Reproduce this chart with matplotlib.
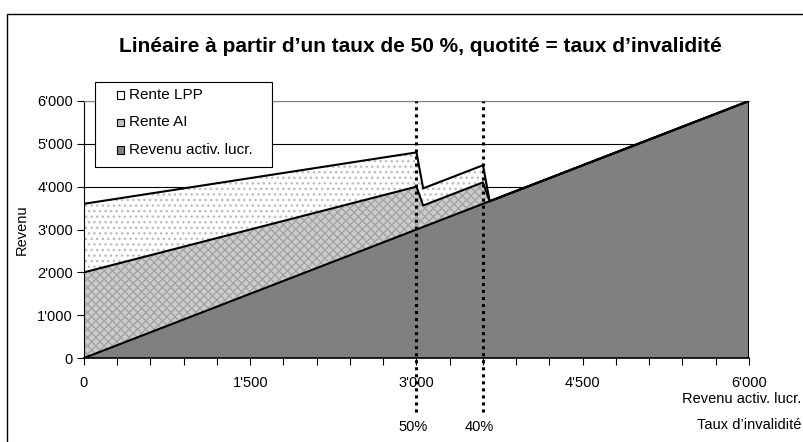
import matplotlib
matplotlib.use('Agg')
import matplotlib.pyplot as plt
import numpy as np
from matplotlib.patches import Rectangle
from matplotlib.ticker import MultipleLocator, FuncFormatter

plt.rcParams['font.family'] = ['Liberation Sans', 'DejaVu Sans']
plt.rcParams['hatch.linewidth'] = 1.0

# breakpoints (income in CHF)
revenu = [0, 3000, 3060, 3600, 3660, 6000]
rente_ai = [2000, 1000, 500, 500, 0, 0]
rente_lpp = [1600, 800, 400, 400, 0, 0]
seuils = [3000, 3600]
seuil_labels = ['50%', '40%']
legend_labels = ['Rente LPP', 'Rente AI', 'Revenu activ. lucr.']
legend_colors = ['white', '#c0c0c0', '#808080']

W, H = 804, 442


def apostrophe(v, pos=None):
    return f"{int(v):,}".replace(',', "'")


def fx(px):
    return px / W


def fy(py):
    return 1 - py / H


x = np.array(revenu, dtype=float)
top_rev = x
top_ai = top_rev + np.array(rente_ai)
top_lpp = top_ai + np.array(rente_lpp)

fig = plt.figure(figsize=(W / 100, H / 100), dpi=100)
ax = fig.add_axes([fx(84), fy(358), 665 / W, 257 / H])

ax.fill_between(x, 0, top_rev, facecolor='#808080', linewidth=0, zorder=2)
ax.fill_between(x, top_rev, top_ai, facecolor='#cccccc', hatch='xxxx',
                edgecolor='#a4a4a4', linewidth=0, zorder=2)
ax.fill_between(x, top_ai, top_lpp, facecolor='white', hatch='...',
                edgecolor='#bcbcbc', linewidth=0, zorder=2)

for top in (top_rev, top_ai, top_lpp):
    ax.plot(x, top, color='black', lw=1.5, zorder=3)
ax.plot([x[-1], x[-1]], [0, top_rev[-1]], color='black', lw=1.5, zorder=3)
ax.plot([x[0], x[0]], [0, top_lpp[0]], color='black', lw=1.2, zorder=3)

# invalidity thresholds
for s, lab in zip(seuils, seuil_labels):
    ax.plot([s, s], [-0.21, 1.0], transform=ax.get_xaxis_transform(),
            color='black', lw=2.2, ls=(0, (1, 1.3)), clip_on=False, zorder=5)
    ax.text(s - 30, -0.27, lab, transform=ax.get_xaxis_transform(),
            ha='center', va='center', fontsize=10.5)

ax.set_xlim(0, 6000)
ax.set_ylim(0, 6000)
ax.xaxis.set_major_locator(MultipleLocator(300))
ax.xaxis.set_major_formatter(FuncFormatter(
    lambda v, p: apostrophe(v) if round(v) % 1500 == 0 else ''))
ax.yaxis.set_major_locator(MultipleLocator(1000))
ax.yaxis.set_major_formatter(FuncFormatter(apostrophe))
ax.tick_params(axis='x', direction='out', length=5, width=0.8, pad=8, labelsize=10.5)
ax.tick_params(axis='y', direction='out', length=5, width=0.8, pad=3, labelsize=10.5)
ax.grid(axis='y', color='black', lw=0.8, zorder=0)
ax.set_axisbelow(True)

ax.spines['right'].set_visible(False)
ax.spines['top'].set_color('#808080')
ax.spines['left'].set_linewidth(0.8)
ax.spines['bottom'].set_linewidth(1.2)

fig.text(fx(420), fy(47),
         'Linéaire à partir d\u2019un taux de 50 %, quotité = taux d\u2019invalidité',
         ha='center', va='center', fontsize=15, fontweight='bold')
fig.text(fx(22), fy(230), 'Revenu', rotation=90,
         ha='center', va='center', fontsize=10.5)
fig.text(fx(801), fy(399), 'Revenu activ. lucr.',
         ha='right', va='center', fontsize=10.5)
fig.text(fx(801), fy(425), 'Taux d\u2019invalidité',
         ha='right', va='center', fontsize=10.5)

# legend box, laid out like the spreadsheet one
fig.add_artist(Rectangle((fx(95), fy(167)), fx(272) - fx(95), fy(82) - fy(167),
                         transform=fig.transFigure, facecolor='white',
                         edgecolor='black', lw=0.8, zorder=10))
for i, (lab, col) in enumerate(zip(legend_labels, legend_colors)):
    yc = 95 + i * 27.5
    fig.add_artist(Rectangle((fx(117), fy(yc + 3.5)), 7 / W, 7 / H,
                             transform=fig.transFigure, facecolor=col,
                             edgecolor='black', lw=0.8, zorder=11))
    fig.text(fx(129), fy(yc), lab, ha='left', va='center',
             fontsize=11, zorder=11)

# chart area border
fig.add_artist(Rectangle((fx(7), -0.1), 1.2, fy(14) + 0.1,
                         transform=fig.transFigure, fill=False,
                         edgecolor='black', lw=1))

fig.savefig('out.png', dpi=100)
plt.close(fig)
